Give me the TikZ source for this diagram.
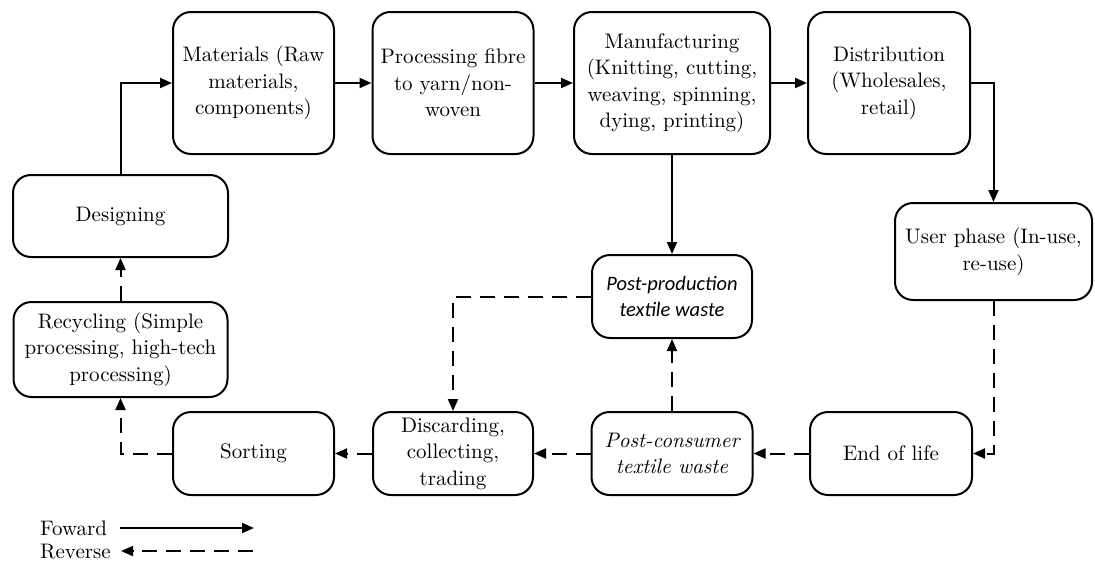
\documentclass[tikz,border=0pt]{standalone}
\usepackage{fontspec}
\setmainfont{lmroman10}[Extension=.otf,UprightFont=*-regular,ItalicFont=*-italic,BoldFont=*-bold,BoldItalicFont=*-bolditalic]
\newfontfamily\calib{Carlito}
\usetikzlibrary{arrows.meta}
\tikzset{
  box/.style={draw, line width=2pt, rounded corners=18pt, align=center, inner sep=0pt,
    font=\fontsize{21}{26.5}\selectfont},
  fwd/.style={line width=2pt, -{Triangle[length=12pt,width=10pt]}},
  rev/.style={line width=2pt, dash pattern=on 15pt off 9pt, -{Triangle[length=12pt,width=10pt]}},
  lbl/.style={font=\fontsize{21}{26.5}\selectfont, inner sep=0pt, anchor=west}
}
\begin{document}
\begin{tikzpicture}[x=1pt,y=-1pt]
\useasboundingbox (0,0) rectangle (1095,562);
% top row
\node[box, minimum width=161pt, minimum height=142pt] (mat) at (253.5,83) {Materials (Raw\\materials,\\components)};
\node[box, minimum width=161pt, minimum height=142pt] (proc) at (453,83) {Processing fibre\\to yarn/non-\\woven};
\node[box, minimum width=196pt, minimum height=142pt] (manu) at (672,83) {Manufacturing\\(Knitting, cutting,\\weaving, spinning,\\dying, printing)};
\node[box, minimum width=162pt, minimum height=142pt] (dist) at (889,83) {Distribution\\(Wholesales,\\retail)};
% left column
\node[box, minimum width=215pt, minimum height=82pt] (des) at (120.5,216) {Designing};
\node[box, minimum width=214pt, minimum height=95pt] (rec) at (120.5,349.5) {Recycling (Simple\\processing, high-tech\\processing)};
% right
\node[box, minimum width=197pt, minimum height=97pt] (user) at (993.5,251.5) {User phase (In-use,\\re-use)};
% middle
\node[box, minimum width=160pt, minimum height=83pt] (pprod) at (672,296.5) {\calib\itshape\fontsize{20.5}{26.5}\selectfont Post-production\\\calib\itshape\fontsize{20.5}{26.5}\selectfont textile waste};
% bottom row
\node[box, minimum width=161pt, minimum height=83pt] (sort) at (253.5,453.5) {Sorting};
\node[box, minimum width=160pt, minimum height=83pt] (disc) at (453,453.5) {Discarding,\\collecting,\\trading};
\node[box, minimum width=161pt, minimum height=83pt] (pcons) at (672,453.5) {\itshape Post-consumer\\\itshape textile waste};
\node[box, minimum width=162pt, minimum height=83pt] (eol) at (891,453.5) {End of life};
% forward connectors
\draw[fwd] (des.north) |- (mat.west);
\draw[fwd] (mat.east) -- (proc.west);
\draw[fwd] (proc.east) -- (manu.west);
\draw[fwd] (manu.east) -- (dist.west);
\draw[fwd] (dist.east) -| (user.north);
\draw[fwd] (manu.south) -- (pprod.north);
% reverse connectors
\draw[rev] (user.south) |- (eol.east);
\draw[rev] (eol.west) -- (pcons.east);
\draw[rev] (pcons.west) -- (disc.east);
\draw[rev] (disc.west) -- (sort.east);
\draw[rev] (pcons.north) -- (pprod.south);
\draw[rev] (pprod.west) -| (disc.north);
\draw[rev] (sort.west) -| (rec.south);
\draw[rev] (rec.north) -- (des.south);
% legend
\node[lbl] (lf) at (40,528) {Foward};
\node[lbl] (lr) at (40,552) {Reverse};
\coordinate (f1) at (120,528);
\coordinate (f2) at (254,528);
\coordinate (r1) at (253,551);
\coordinate (r2) at (121,551);
\draw[fwd] (f1) -- (f2);
\draw[rev] (r1) -- (r2);
\end{tikzpicture}
\end{document}
